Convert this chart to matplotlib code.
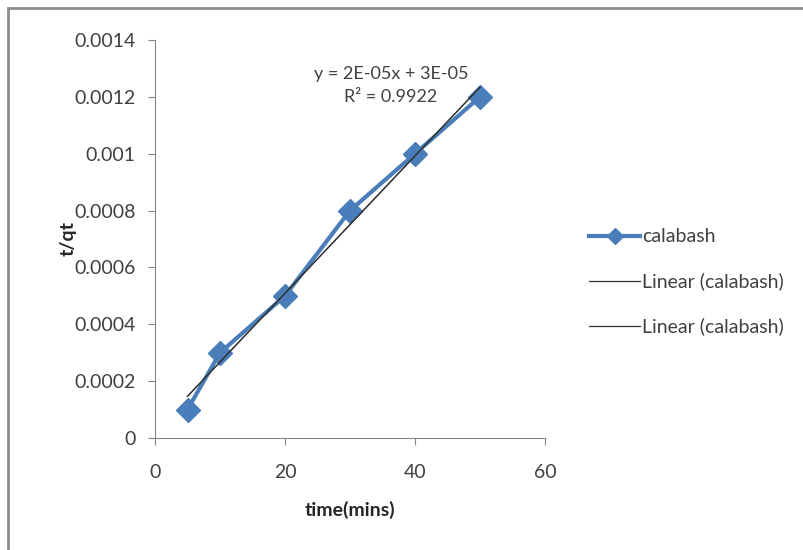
import numpy as np
import matplotlib.pyplot as plt
from matplotlib.patches import Rectangle

time_mins = [5, 10, 20, 30, 40, 50]
t_qt = [0.0001, 0.0003, 0.0005, 0.0008, 0.001, 0.0012]
x_ticks = [0, 20, 40, 60]
y_ticks = [0, 0.0002, 0.0004, 0.0006, 0.0008, 0.001, 0.0012, 0.0014]
y_labels = ['0', '0.0002', '0.0004', '0.0006', '0.0008', '0.001', '0.0012', '0.0014']

plt.rcParams['font.family'] = ['Lato', 'DejaVu Sans']

fig = plt.figure(figsize=(8.04, 5.5), dpi=100)
fig.patches.append(Rectangle((8 / 804, -0.05), 1.2, 1 - 8 / 550 + 0.05,
                             transform=fig.transFigure, fill=False,
                             edgecolor='#8c8c8c', linewidth=2))
ax = fig.add_axes([155 / 804, 1 - 438 / 550, 390 / 804, 398 / 550])

# trendline (Excel adds it twice here)
slope, icept = np.polyfit(time_mins, t_qt, 1)
xs = np.array([min(time_mins), max(time_mins)])
ax.plot(xs, slope * xs + icept, color='#333333', lw=0.9, zorder=3)
ax.plot(xs, slope * xs + icept, color='#333333', lw=0.9, zorder=3)
ax.plot(time_mins, t_qt, color='#4a7ebb', lw=3, marker='D', ms=12,
        zorder=2, label='calabash')

ax.set_xlim(0, 60)
ax.set_ylim(0, 0.0014)
ax.set_xticks(x_ticks)
ax.set_yticks(y_ticks)
ax.set_yticklabels(y_labels)
for s in ['top', 'right']:
    ax.spines[s].set_visible(False)
for s in ['left', 'bottom']:
    ax.spines[s].set_color('#868686')
ax.tick_params(colors='#868686', labelcolor='#404040', labelsize=14, length=5)
ax.tick_params(axis='y', pad=9)
ax.tick_params(axis='x', pad=14)
ax.set_xlabel('time(mins)', fontsize=14, fontweight='bold', color='#262626', labelpad=14)
ax.set_ylabel('t/qt', fontsize=14, fontweight='bold', color='#262626', labelpad=-2)

ax.text(0.605, 0.885, 'y = 2E-05x + 3E-05\nR² = 0.9922', transform=ax.transAxes,
        ha='center', va='center', fontsize=13, color='#404040', linespacing=1.55)

# legend entries
handles = [plt.Line2D([], [], color='#4a7ebb', lw=3, marker='D', ms=8),
           plt.Line2D([], [], color='#333333', lw=0.9),
           plt.Line2D([], [], color='#333333', lw=0.9)]
fig.legend(handles, ['calabash', 'Linear (calabash)', 'Linear (calabash)'],
           loc='center left', bbox_to_anchor=(572 / 804, 1 - 282 / 550),
           frameon=False, fontsize=14, labelcolor='#404040', handlelength=2.6,
           handletextpad=0.1, labelspacing=1.4)

fig.savefig('out.png', dpi=100)
